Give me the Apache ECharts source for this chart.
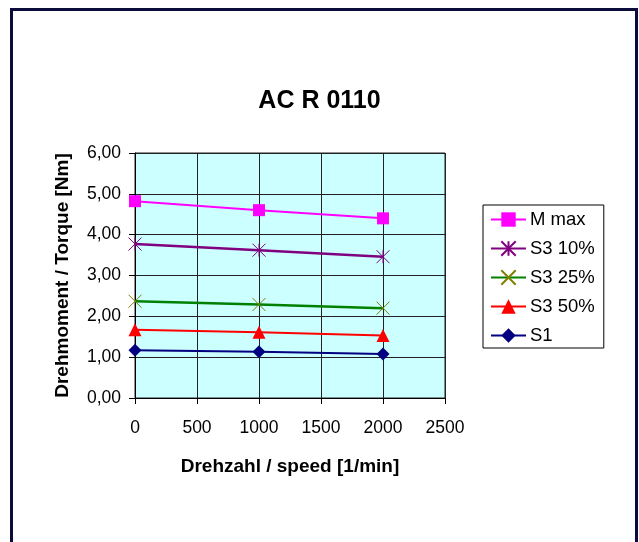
<!DOCTYPE html>
<html>
<head>
<meta charset="utf-8">
<script src="https://cdn.jsdelivr.net/npm/echarts@6/dist/echarts.min.js"></script>
<style>
html,body{margin:0;padding:0;background:#fff;}
#c{width:639px;height:542px;}
</style>
</head>
<body>
<div id="c"></div>
<script>
const speeds = [0, 1000, 2000];
const xTicks = [0, 500, 1000, 1500, 2000, 2500];
const yTicks = [0, 1, 2, 3, 4, 5, 6];
const seriesNames = ['M max', 'S3 10%', 'S3 25%', 'S3 50%', 'S1'];
const mMax = [4.82, 4.60, 4.40];
const s3_10 = [3.77, 3.62, 3.46];
const s3_25 = [2.37, 2.29, 2.20];
const s3_50 = [1.67, 1.61, 1.53];
const s1 = [1.17, 1.13, 1.08];

const FONT = 'Liberation Sans, Arial, sans-serif';
const pairs = v => speeds.map((s, i) => [s, v[i]]);

const asterisk = 'path://M0,0 L10,10 M10,0 L0,10 M5,0 L5,10';
const cross = 'path://M0,0 L10,10 M10,0 L0,10';

const chart = echarts.init(document.getElementById('c'), null, {renderer: 'canvas'});
chart.setOption({
  backgroundColor: '#ffffff',
  animation: false,
  graphic: [{
    type: 'rect',
    shape: {x: 11.5, y: 9.5, width: 625, height: 560},
    style: {fill: 'none', stroke: '#0c0c3c', lineWidth: 3},
    z: 100
  }],
  title: {
    text: 'AC R 0110',
    left: 'center',
    top: 84,
    textStyle: {fontFamily: FONT, fontSize: 25, fontWeight: 'bold', color: '#000'}
  },
  legend: {
    orient: 'vertical',
    left: 483,
    top: 205,
    padding: [5, 9, 3, 7],
    borderColor: '#000',
    borderWidth: 1,
    backgroundColor: '#fff',
    itemWidth: 35,
    itemHeight: 18,
    itemGap: 10,
    textStyle: {fontFamily: FONT, fontSize: 18.5, color: '#000', padding: [0, 0, 0, -1]},
    data: seriesNames
  },
  grid: {
    left: 135, top: 153, width: 310, height: 245,
    show: true, backgroundColor: '#ccffff', borderColor: '#222', borderWidth: 1
  },
  xAxis: {
    type: 'value', min: xTicks[0], max: xTicks[xTicks.length - 1], interval: 500,
    name: 'Drehzahl / speed [1/min]', nameLocation: 'middle', nameGap: 59,
    nameTextStyle: {fontFamily: FONT, fontSize: 19, fontWeight: 'bold', color: '#000'},
    axisLine: {show: true, lineStyle: {color: '#000', width: 1}},
    axisTick: {show: true, length: 6, lineStyle: {color: '#000'}},
    axisLabel: {fontFamily: FONT, fontSize: 17.5, color: '#000', margin: 21,
      formatter: v => String(v)},
    splitLine: {show: true, lineStyle: {color: '#222', width: 1}}
  },
  yAxis: {
    type: 'value', min: yTicks[0], max: yTicks[yTicks.length - 1], interval: 1,
    name: 'Drehmoment / Torque [Nm]', nameLocation: 'middle', nameGap: 63,
    nameTextStyle: {fontFamily: FONT, fontSize: 19, fontWeight: 'bold', color: '#000'},
    axisLine: {show: true, lineStyle: {color: '#000', width: 1}},
    axisTick: {show: true, length: 6, lineStyle: {color: '#000'}},
    axisLabel: {fontFamily: FONT, fontSize: 17.5, color: '#000', margin: 14,
      formatter: v => v.toFixed(2).replace('.', ',')},
    splitLine: {show: true, lineStyle: {color: '#222', width: 1}}
  },
  series: [
    {name: seriesNames[0], type: 'line', data: pairs(mMax), symbol: 'rect', symbolSize: 12,
      lineStyle: {color: '#ff00ff', width: 2}, itemStyle: {color: '#ff00ff'}},
    {name: seriesNames[1], type: 'line', data: pairs(s3_10), symbol: asterisk, symbolSize: 13,
      lineStyle: {color: '#800080', width: 2.5}, itemStyle: {color: '#800080', borderColor: '#800080', borderWidth: 1}},
    {name: seriesNames[2], type: 'line', data: pairs(s3_25), symbol: cross, symbolSize: 13,
      lineStyle: {color: '#008000', width: 2.5}, itemStyle: {color: '#808000', borderColor: '#808000', borderWidth: 1}},
    {name: seriesNames[3], type: 'line', data: pairs(s3_50), symbol: 'triangle', symbolSize: 13,
      lineStyle: {color: '#ff0000', width: 2}, itemStyle: {color: '#ff0000'}},
    {name: seriesNames[4], type: 'line', data: pairs(s1), symbol: 'diamond', symbolSize: 13,
      lineStyle: {color: '#000080', width: 2}, itemStyle: {color: '#000080'}}
  ]
});
</script>
</body>
</html>
